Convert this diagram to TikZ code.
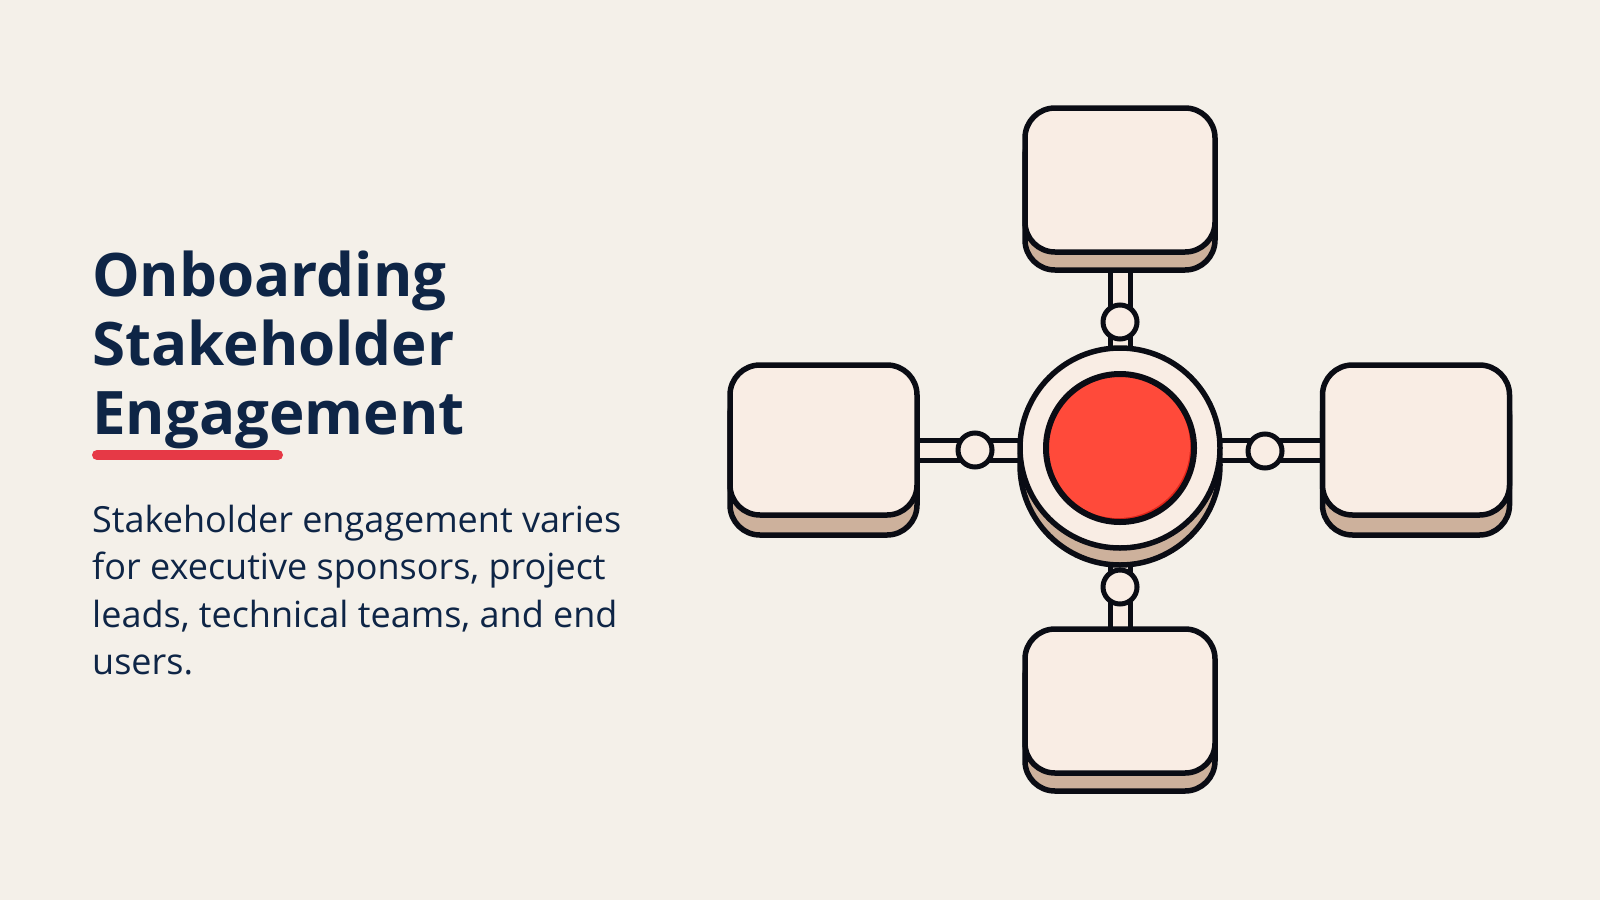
\documentclass[tikz,border=0pt]{standalone}
\usepackage{fontspec}
\setmainfont{Open Sans}
\usetikzlibrary{positioning}
\definecolor{bg}{HTML}{F4F0E9}
\definecolor{navy}{HTML}{0E2546}
\definecolor{accent}{HTML}{E63946}
\definecolor{peach}{HTML}{F9EDE4}
\definecolor{tan}{HTML}{CDB19C}
\definecolor{hubred}{HTML}{FF4A3A}
\definecolor{hubdark}{HTML}{E0251A}
\definecolor{ink}{HTML}{0A0C14}
\tikzset{
  title/.style={anchor=base west, inner sep=0pt, text=navy, font=\fontsize{60}{60}\selectfont\bfseries},
  body/.style={anchor=base west, inner sep=0pt, text=navy, font=\fontsize{36}{36}\selectfont},
  facebox/.style={draw=ink, line width=5.5pt, fill=peach, rounded corners=30pt, inner sep=0pt},
  basebox/.style={draw=ink, line width=5.5pt, fill=tan, rounded corners=30pt, inner sep=0pt},
  knob/.style={circle, draw=ink, line width=5pt, fill=peach, minimum size=34pt, inner sep=0pt},
  stem/.style={draw=ink, line width=5pt, double=peach, double distance=15pt}
}
\begin{document}
\begin{tikzpicture}[x=1pt,y=-1pt]
\fill[bg] (0,0) rectangle (1600,900);
\useasboundingbox (0,0) rectangle (1600,900);
% text
\node[title] (t1) at (92,296) {Onboarding};
\node[title] (t2) at (92,365) {Stakeholder};
\node[title] (t3) at (92,434) {Engagement};
\coordinate (ul1) at (97,455);
\coordinate (ul2) at (278,455);
\draw[accent, line width=10pt, line cap=round] (ul1) -- (ul2);
\node[body] (b1) at (92,532) {Stakeholder engagement varies};
\node[body] (b2) at (92,579.5) {for executive sponsors, project};
\node[body] (b3) at (92,627) {leads, technical teams, and end};
\node[body] (b4) at (92,674.5) {users.};
% positions
\coordinate (c) at (1120,450);
\coordinate (tp) at (1120,180);
\coordinate (bp) at (1120,701);
\coordinate (lp) at (823,450);
\coordinate (rp) at (1416,450);
% stems
\draw[stem] (c) -- (tp);
\draw[stem] (c) -- (bp);
\draw[stem] (c) -- (lp);
\draw[stem] (c) -- (rp);
% knobs
\node[knob] (kt) at (1120,322) {};
\node[knob] (kb) at (1120,587) {};
\node[knob] (kl) at (975,450) {};
\node[knob] (kr) at (1265,451) {};
% boxes
\node[basebox, minimum width=190pt, minimum height=144pt] (tbase) at (1120,198) {};
\node[facebox, minimum width=190pt, minimum height=144pt] (top) at (1120,180) {};
\node[basebox, minimum width=190pt, minimum height=144pt] (bbase) at (1120,719) {};
\node[facebox, minimum width=190pt, minimum height=144pt] (bottom) at (1120,701) {};
\node[basebox, minimum width=187pt, minimum height=150pt] (lbase) at (823.5,460) {};
\node[facebox, minimum width=187pt, minimum height=150pt] (left) at (823.5,440) {};
\node[basebox, minimum width=187pt, minimum height=150pt] (rbase) at (1416,460) {};
\node[facebox, minimum width=187pt, minimum height=150pt] (right) at (1416,440) {};
% hub
\node[circle, draw=ink, line width=5.5pt, fill=tan, minimum size=200pt, inner sep=0pt] (hubbase) at (1120,465) {};
\node[circle, draw=ink, line width=5.5pt, fill=peach, minimum size=200pt, inner sep=0pt] (hub) at (1120,448) {};
\fill[hubdark] (1120,448) circle[radius=74pt];
\fill[hubred] (1118,446) circle[radius=72pt];
\node[circle, draw=ink, line width=6pt, minimum size=148pt, inner sep=0pt] (core) at (1120,448) {};
\end{tikzpicture}
\end{document}
